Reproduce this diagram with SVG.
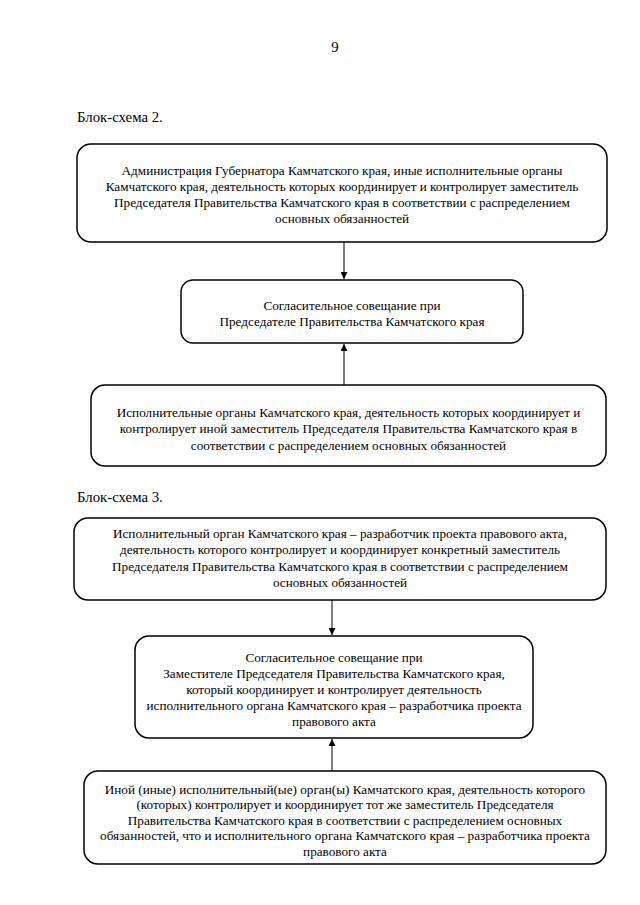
<svg xmlns="http://www.w3.org/2000/svg" width="640" height="905" viewBox="0 0 640 905" font-family="'Liberation Serif', 'Times New Roman', serif">
<style>
text{font-family:"Liberation Serif","Times New Roman",serif;fill:#000}
.t{font-size:13.2px;text-anchor:middle}
.h{font-size:14.8px}
.box{fill:#fff;stroke:#000;stroke-width:1.5}
.ln{stroke:#000;stroke-width:1;fill:none}
</style>
<defs>
<marker id="ah" viewBox="0 0 10 10" refX="10" refY="5" markerWidth="7" markerHeight="7" orient="auto" markerUnits="userSpaceOnUse">
<path d="M0,0 L10,5 L0,10 z" fill="#000"/>
</marker>
</defs>
<rect width="640" height="905" fill="#fff"/>
<text x="335" y="52" class="h" text-anchor="middle">9</text>
<text x="77" y="122" class="h">Блок-схема 2.</text>
<text x="77" y="502" class="h">Блок-схема 3.</text>

<g id="connectors">
<line class="ln" x1="344" y1="242" x2="344" y2="279" marker-end="url(#ah)"/>
<line class="ln" x1="344" y1="385" x2="344" y2="344" marker-end="url(#ah)"/>
<line class="ln" x1="332" y1="600" x2="332" y2="635" marker-end="url(#ah)"/>
<line class="ln" x1="332" y1="771" x2="332" y2="739" marker-end="url(#ah)"/>
</g>

<g id="n1">
<rect class="box" x="77" y="144" width="530" height="98" rx="14"/>
<text class="t" x="342" y="174.5">Администрация Губернатора Камчатского края, иные исполнительные органы</text>
<text class="t" x="342" y="190.5">Камчатского края, деятельность которых координирует и контролирует заместитель</text>
<text class="t" x="342" y="206.5">Председателя Правительства Камчатского края в соответствии с распределением</text>
<text class="t" x="342" y="222.5">основных обязанностей</text>
</g>

<g id="n2">
<rect class="box" x="181" y="280" width="342" height="63" rx="12"/>
<text class="t" x="352" y="309.5">Согласительное совещание при</text>
<text class="t" x="352" y="326">Председателе Правительства Камчатского края</text>
</g>

<g id="n3">
<rect class="box" x="91" y="385" width="515" height="81" rx="14"/>
<text class="t" x="348.5" y="416.5">Исполнительные органы Камчатского края, деятельность которых координирует и</text>
<text class="t" x="348.5" y="433">контролирует иной заместитель Председателя Правительства Камчатского края в</text>
<text class="t" x="348.5" y="449.5">соответствии с распределением основных обязанностей</text>
</g>

<g id="n4">
<rect class="box" x="74" y="518" width="532" height="82" rx="14"/>
<text class="t" x="340" y="537.5">Исполнительный орган Камчатского края – разработчик проекта правового акта,</text>
<text class="t" x="340" y="554">деятельность которого контролирует и координирует конкретный заместитель</text>
<text class="t" x="340" y="570.5">Председателя Правительства Камчатского края в соответствии с распределением</text>
<text class="t" x="340" y="587">основных обязанностей</text>
</g>

<g id="n5">
<rect class="box" x="135" y="636" width="398" height="102" rx="14"/>
<text class="t" x="334" y="661.5">Согласительное совещание при</text>
<text class="t" x="334" y="677.5">Заместителе Председателя Правительства Камчатского края,</text>
<text class="t" x="334" y="693.5">который координирует и контролирует деятельность</text>
<text class="t" x="334" y="709.5">исполнительного органа Камчатского края – разработчика проекта</text>
<text class="t" x="334" y="725.5">правового акта</text>
</g>

<g id="n6">
<rect class="box" x="84" y="771" width="522" height="93" rx="14"/>
<text class="t" x="345" y="793.5">Иной (иные) исполнительный(ые) орган(ы) Камчатского края, деятельность которого</text>
<text class="t" x="345" y="809">(которых) контролирует и координирует тот же заместитель Председателя</text>
<text class="t" x="345" y="824.5">Правительства Камчатского края в соответствии с распределением основных</text>
<text class="t" x="345" y="840">обязанностей, что и исполнительного органа Камчатского края – разработчика проекта</text>
<text class="t" x="345" y="855.5">правового акта</text>
</g>
</svg>
